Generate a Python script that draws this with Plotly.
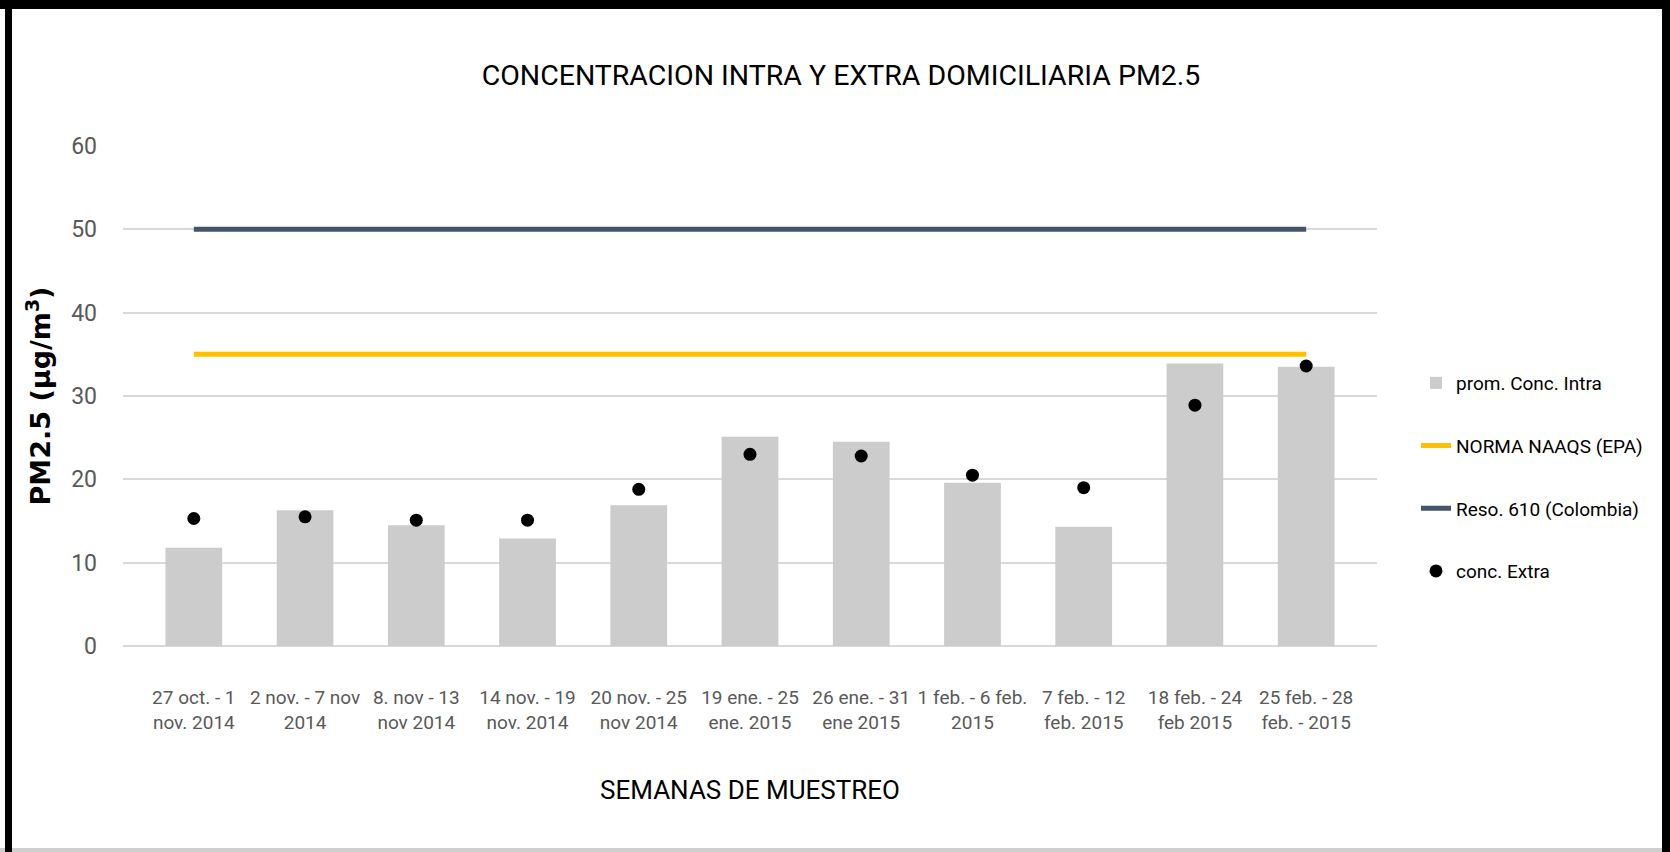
import plotly.graph_objects as go

# ---- data ----
weeks = [
    "27 oct. - 1<br>nov. 2014",
    "2 nov. - 7 nov<br>2014",
    "8. nov - 13<br>nov 2014",
    "14 nov. - 19<br>nov. 2014",
    "20 nov. - 25<br>nov 2014",
    "19 ene. - 25<br>ene. 2015",
    "26 ene. - 31<br>ene 2015",
    "1 feb. - 6 feb.<br>2015",
    "7 feb. - 12<br>feb. 2015",
    "18 feb. - 24<br>feb 2015",
    "25 feb. - 28<br>feb. - 2015",
]
conc_intra = [11.8, 16.3, 14.5, 12.9, 16.9, 25.1, 24.5, 19.6, 14.3, 33.9, 33.5]
conc_extra = [15.3, 15.5, 15.1, 15.1, 18.8, 23.0, 22.8, 20.5, 19.0, 28.9, 33.6]
norma_naaqs = [35] * len(weeks)
reso_610 = [50] * len(weeks)
y_ticks = [0, 10, 20, 30, 40, 50, 60]

# ---- style ----
W, H = 1670, 852
ML, MR, MT, MB = 123, 293, 146, 206
PW, PH = W - ML - MR, H - MT - MB
FONT = "Roboto, Liberation Sans, sans-serif"
TICK_GRAY = "#595959"

fig = go.Figure()
fig.add_trace(go.Bar(
    x=weeks, y=conc_intra, name="prom. Conc. Intra",
    marker=dict(color="#CCCCCC", line=dict(width=0)),
    legendgroup="a",
))
fig.add_trace(go.Scatter(
    x=weeks, y=norma_naaqs, name="NORMA NAAQS (EPA)", mode="lines",
    line=dict(color="#FFC000", width=5), legendgroup="b",
))
fig.add_trace(go.Scatter(
    x=weeks, y=reso_610, name="Reso. 610 (Colombia)", mode="lines",
    line=dict(color="#44546A", width=5), legendgroup="c",
))
fig.add_trace(go.Scatter(
    x=weeks, y=conc_extra, name="conc. Extra", mode="markers",
    marker=dict(color="black", size=13, symbol="circle"), legendgroup="d",
))

def px_x(p):
    return (p - ML) / PW

def px_y(p):
    return (H - MB - p) / PH

shapes = [
    # light bottom edge, then black frame (left, top, right)
    dict(type="line", xref="paper", yref="paper", x0=px_x(0), x1=px_x(W), y0=px_y(850), y1=px_y(850), line=dict(color="#CFCFCF", width=4)),
    dict(type="line", xref="paper", yref="paper", x0=px_x(8.5), x1=px_x(8.5), y0=px_y(0), y1=px_y(H), line=dict(color="black", width=7)),
    dict(type="line", xref="paper", yref="paper", x0=px_x(0), x1=px_x(W), y0=px_y(4.5), y1=px_y(4.5), line=dict(color="black", width=9)),
    dict(type="line", xref="paper", yref="paper", x0=px_x(1666), x1=px_x(1666), y0=px_y(0), y1=px_y(H), line=dict(color="black", width=8)),
]

fig.update_layout(
    width=W, height=H,
    margin=dict(l=ML, r=MR, t=MT, b=MB, autoexpand=False),
    paper_bgcolor="white", plot_bgcolor="white",
    title=dict(
        text="CONCENTRACION INTRA Y EXTRA DOMICILIARIA PM2.5",
        x=841 / W, xanchor="center", y=1 - 75 / H, yanchor="middle",
        font=dict(family=FONT, size=28.5, color="black"),
    ),
    bargap=0.49,
    showlegend=True,
    legend=dict(
        x=px_x(1416), xanchor="left", y=px_y(364), yanchor="top",
        font=dict(family=FONT, size=19, color="black"),
        traceorder="grouped", tracegroupgap=35,
        bgcolor="rgba(0,0,0,0)",
    ),
    shapes=shapes,
)

fig.update_xaxes(
    type="category", tickangle=0,
    tickfont=dict(family=FONT, size=19, color=TICK_GRAY),
    ticklabelstandoff=38,
    showgrid=False, showline=False, zeroline=False,
    title=dict(text="SEMANAS DE MUESTREO", standoff=48,
               font=dict(family=FONT, size=26, color="black")),
)
fig.update_yaxes(
    range=[0, 60], tickvals=y_ticks,
    tickfont=dict(family=FONT, size=23, color=TICK_GRAY),
    ticklabelstandoff=25,
    showgrid=True, gridcolor="#D9D9D9", gridwidth=2,
    zeroline=True, zerolinecolor="#D9D9D9", zerolinewidth=2,
    showline=False,
    title=dict(text="PM2.5 (µg/m<sup>3</sup>)", standoff=12,
               font=dict(family="DejaVu Sans, Open Sans, sans-serif", size=27, color="black", weight="bold")),
)

fig.write_html(
    "out.html",
    config={"displayModeBar": False},
    post_script="document.body.style.margin='0';document.body.style.overflow='hidden';",
)
